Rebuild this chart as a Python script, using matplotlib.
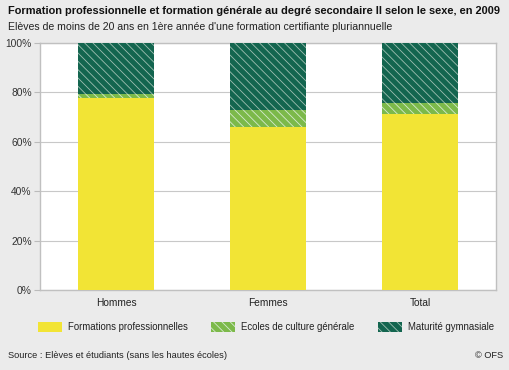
import matplotlib
matplotlib.use("Agg")
import matplotlib.pyplot as plt
from matplotlib.patches import Rectangle

plt.rcParams['font.family'] = ['Liberation Sans', 'DejaVu Sans']
plt.rcParams['hatch.linewidth'] = 0.6

categories = ["Hommes", "Femmes", "Total"]
series_names = ["Formations professionnelles", "Ecoles de culture générale", "Maturité gymnasiale"]
prof = [77.6, 66.1, 71.3]
ecg = [1.8, 6.6, 4.3]
matu = [20.6, 27.3, 24.4]
y_ticks = [0, 20, 40, 60, 80, 100]

colors = ["#f2e435", "#7cb94a", "#13654f"]
hatches = [None, "\\\\\\\\", "\\\\\\\\"]
edge_hatch = ["none", "#d6ead0", "#9fbfb2"]

W, H = 510, 370
fig = plt.figure(figsize=(5.1, 3.7), dpi=100, facecolor="#ebebeb")
ax = fig.add_axes([40 / W, 1 - 290 / H, 456 / W, 247 / H])
ax.set_facecolor("white")

x = range(len(categories))
bottoms = [0] * len(categories)
for vals, col, h, ec in zip([prof, ecg, matu], colors, hatches, edge_hatch):
    ax.bar(x, vals, width=0.5, bottom=bottoms, color=col, hatch=h,
           edgecolor=ec, linewidth=0, zorder=3)
    bottoms = [b + v for b, v in zip(bottoms, vals)]

ax.set_xlim(-0.5, 2.5)
ax.set_ylim(0, 100)
ax.set_yticks(y_ticks)
ax.set_yticklabels([f"{t}%" for t in y_ticks], fontsize=7.4, color="#333333")
ax.set_xticks(list(x))
ax.set_xticklabels(categories, fontsize=7.3, color="#222222")
ax.tick_params(axis="x", length=0, pad=6)
ax.tick_params(axis="y", length=4, width=0.8, color="#bbbbbb", direction="out", pad=2)
ax.yaxis.grid(True, color="#c8c8c8", linewidth=0.8, zorder=0)
for s in ax.spines.values():
    s.set_color("#c0c0c0")
    s.set_linewidth(1)

fig.text(8 / W, 1 - 11 / H, "Formation professionnelle et formation générale au degré secondaire II selon le sexe, en 2009",
         fontsize=7.9, fontweight="bold", va="center", ha="left", color="#111111")
fig.text(8 / W, 1 - 27 / H, "Elèves de moins de 20 ans en 1ère année d'une formation certifiante pluriannuelle",
         fontsize=7.6, va="center", ha="left", color="#222222")

# legend drawn by hand so that each entry sits where the reference has it
leg_x = [38, 211, 378]
for lx, col, h, ec, name in zip(leg_x, colors, hatches, edge_hatch, series_names):
    fig.add_artist(Rectangle((lx / W, 1 - 332 / H), 24 / W, 10 / H, transform=fig.transFigure,
                             facecolor=col, hatch=h, edgecolor=ec, linewidth=0))
    fig.text((lx + 30) / W, 1 - 327 / H, name, fontsize=6.9, va="center", ha="left", color="#222222")

fig.text(8 / W, 1 - 355 / H, "Source : Elèves et étudiants (sans les hautes écoles)",
         fontsize=6.7, va="center", ha="left", color="#222222")
fig.text(503 / W, 1 - 355 / H, "© OFS", fontsize=6.7, va="center", ha="right", color="#222222")

fig.savefig("out.png", dpi=100, facecolor=fig.get_facecolor())
